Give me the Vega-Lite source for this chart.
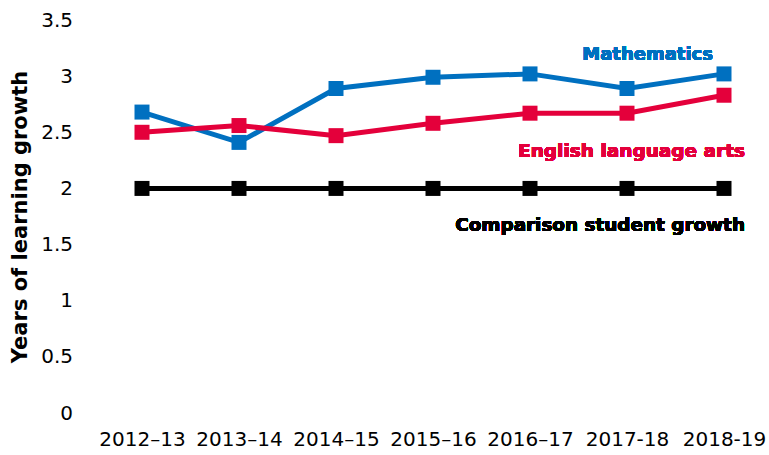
{
  "$schema": "https://vega.github.io/schema/vega-lite/v6.json",
  "width": 679,
  "height": 393,
  "autosize": "none",
  "padding": {"left": 93.5, "top": 20, "right": 0, "bottom": 42},
  "background": "white",
  "config": {"view": {"stroke": null}, "font": "DejaVu Sans"},
  "data": {"values": [
    {"year": "2012–13", "series": "Comparison student growth", "value": 2},
    {"year": "2013–14", "series": "Comparison student growth", "value": 2},
    {"year": "2014–15", "series": "Comparison student growth", "value": 2},
    {"year": "2015–16", "series": "Comparison student growth", "value": 2},
    {"year": "2016–17", "series": "Comparison student growth", "value": 2},
    {"year": "2017-18", "series": "Comparison student growth", "value": 2},
    {"year": "2018-19", "series": "Comparison student growth", "value": 2},
    {"year": "2012–13", "series": "Mathematics", "value": 2.68},
    {"year": "2013–14", "series": "Mathematics", "value": 2.41},
    {"year": "2014–15", "series": "Mathematics", "value": 2.89},
    {"year": "2015–16", "series": "Mathematics", "value": 2.99},
    {"year": "2016–17", "series": "Mathematics", "value": 3.02},
    {"year": "2017-18", "series": "Mathematics", "value": 2.89},
    {"year": "2018-19", "series": "Mathematics", "value": 3.02},
    {"year": "2012–13", "series": "English language arts", "value": 2.50},
    {"year": "2013–14", "series": "English language arts", "value": 2.56},
    {"year": "2014–15", "series": "English language arts", "value": 2.47},
    {"year": "2015–16", "series": "English language arts", "value": 2.58},
    {"year": "2016–17", "series": "English language arts", "value": 2.67},
    {"year": "2017-18", "series": "English language arts", "value": 2.67},
    {"year": "2018-19", "series": "English language arts", "value": 2.83}
  ]},
  "encoding": {
    "x": {
      "field": "year", "type": "ordinal",
      "sort": ["2012–13", "2013–14", "2014–15", "2015–16", "2016–17", "2017-18", "2018-19"],
      "scale": {"type": "point", "padding": 0.5},
      "axis": {"title": null, "labelAngle": 0, "labelFontSize": 20, "labelColor": "#000", "labelFont": "DejaVu Sans", "ticks": false, "domain": false, "grid": false, "labelPadding": 16}
    },
    "y": {
      "field": "value", "type": "quantitative",
      "scale": {"domain": [0, 3.5], "nice": false, "zero": true},
      "axis": {"title": "Years of learning growth", "values": [0, 0.5, 1, 1.5, 2, 2.5, 3, 3.5], "format": "~f", "labelFontSize": 20, "labelColor": "#000", "ticks": false, "domain": false, "grid": false, "labelPadding": 21,
        "titleFontSize": 21, "titleFontWeight": "bold", "titleColor": "#000", "titleX": -73.5, "titleY": 196.5, "titleAlign": "center", "titleBaseline": "middle", "titleAngle": -90}
    },
    "color": {
      "field": "series", "type": "nominal",
      "scale": {"domain": ["Comparison student growth", "Mathematics", "English language arts"], "range": ["#000000", "#0070C0", "#E4003B"]},
      "legend": null
    }
  },
  "layer": [
    {"transform": [{"filter": "datum.series === 'Comparison student growth'"}], "mark": {"type": "line", "strokeWidth": 5, "point": {"shape": "square", "size": 225, "filled": true, "opacity": 1}}},
    {"transform": [{"filter": "datum.series === 'Mathematics'"}], "mark": {"type": "line", "strokeWidth": 5, "point": {"shape": "square", "size": 225, "filled": true, "opacity": 1}}},
    {"transform": [{"filter": "datum.series === 'English language arts'"}], "mark": {"type": "line", "strokeWidth": 5, "point": {"shape": "square", "size": 225, "filled": true, "opacity": 1}}},
    {"mark": {"type": "text", "text": "Mathematics", "fontSize": 18, "fontWeight": "bold", "color": "#0070C0", "align": "right", "baseline": "middle", "dx": -11},
     "encoding": {"x": {"datum": "2018-19"}, "y": {"datum": 3.19}, "color": null}},
    {"mark": {"type": "text", "text": "English language arts", "fontSize": 18.5, "fontWeight": "bold", "color": "#E4003B", "align": "right", "baseline": "middle", "dx": 21},
     "encoding": {"x": {"datum": "2018-19"}, "y": {"datum": 2.33}, "color": null}},
    {"mark": {"type": "text", "text": "Comparison student growth", "fontSize": 18.4, "fontWeight": "bold", "color": "#000000", "align": "right", "baseline": "middle", "dx": 21},
     "encoding": {"x": {"datum": "2018-19"}, "y": {"datum": 1.67}, "color": null}}
  ]
}
